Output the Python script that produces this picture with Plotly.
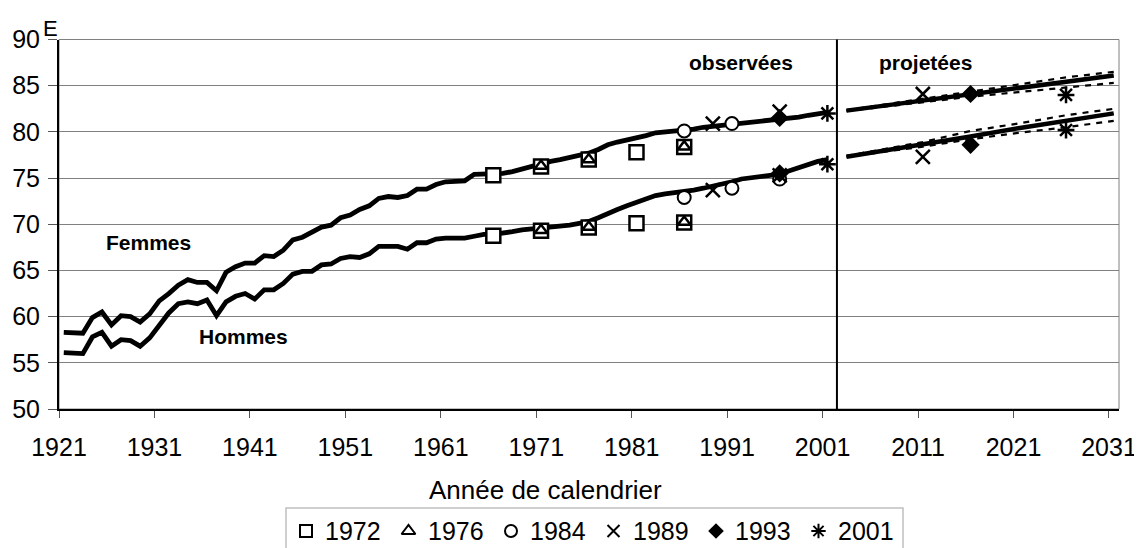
import plotly.graph_objects as go

# ==========================================================
# DATA
# ==========================================================

OBS_YEARS = list(range(1921, 2002))

FEMMES_OBS = [
    58.3, 58.3, 58.2, 59.9, 60.5, 59.1, 60.1, 60.0, 59.4, 60.3,
    61.7, 62.5, 63.4, 64.0, 63.7, 63.7, 62.8, 64.8, 65.4, 65.8,
    65.8, 66.6, 66.5, 67.2, 68.3, 68.6, 69.1, 69.7, 69.9, 70.7,
    71.0, 71.6, 72.0, 72.8, 73.0, 72.9, 73.1, 73.8, 73.8, 74.3,
    74.6, 74.6, 74.7, 75.4, 75.4, 75.4, 75.5, 75.7, 76.0, 76.3,
    76.6, 76.8, 77.0, 77.2, 77.4, 77.7, 78.1, 78.6, 78.9, 79.1,
    79.3, 79.6, 79.9, 80.0, 80.1, 80.1, 80.3, 80.5, 80.6, 80.8,
    80.9, 81.0, 81.1, 81.1, 81.2, 81.3, 81.5, 81.6, 81.8, 81.95,
    82.1,
]

HOMMES_OBS = [
    56.1, 56.0, 56.0, 57.8, 58.3, 56.8, 57.5, 57.4, 56.8, 57.7,
    59.1, 60.4, 61.4, 61.6, 61.4, 61.8, 60.1, 61.6, 62.2, 62.5,
    61.9, 62.9, 62.9, 63.6, 64.6, 64.9, 64.9, 65.6, 65.7, 66.3,
    66.5, 66.4, 66.8, 67.6, 67.6, 67.6, 67.3, 68.0, 68.0, 68.4,
    68.5, 68.5, 68.5, 68.7, 68.9, 68.9, 69.0, 69.2, 69.4, 69.5,
    69.6, 69.6, 69.8, 69.9, 70.1, 70.3, 70.7, 71.2, 71.6, 72.0,
    72.4, 72.8, 73.1, 73.3, 73.4, 73.55, 73.7, 73.9, 74.1, 74.4,
    74.6, 74.9, 75.0, 75.1, 75.3, 75.45, 75.8, 76.1, 76.4, 76.8,
    77.0,
]

PROJ_YEARS = [2003, 2011, 2016, 2021, 2026, 2031]
FEMMES_PROJ = [82.3, 83.4, 84.1, 84.8, 85.5, 86.1]
FEMMES_HAUT = [82.35, 83.6, 84.4, 85.2, 85.9, 86.5]
FEMMES_BAS = [82.25, 83.2, 83.8, 84.3, 84.8, 85.3]
HOMMES_PROJ = [77.3, 78.6, 79.5, 80.4, 81.2, 82.0]
HOMMES_HAUT = [77.4, 78.9, 80.1, 80.9, 81.8, 82.5]
HOMMES_BAS = [77.3, 78.4, 79.2, 79.9, 80.5, 81.2]

# earlier projections (femmes / hommes) by year of projection
M1972_YEARS = [1966, 1971, 1976, 1981, 1986]
M1972_F = [75.3, 76.25, 77.0, 77.8, 78.35]
M1972_H = [68.75, 69.3, 69.65, 70.1, 70.2]

M1976_YEARS = [1971, 1976, 1986]
M1976_F = [76.3, 77.0, 78.4]
M1976_H = [69.35, 69.7, 70.25]

M1984_YEARS = [1986, 1991, 1996]
M1984_F = [80.1, 80.9, None]
M1984_H = [72.9, 73.9, 74.9]

M1989_YEARS = [1989, 1996, 2011]
M1989_F = [80.9, 82.2, 84.1]
M1989_H = [73.7, 75.3, 77.3]

M1993_YEARS = [1996, 2016]
M1993_F = [81.5, 84.1]
M1993_H = [75.5, 78.6]

M2001_YEARS = [2001, 2026]
M2001_F = [82.0, 84.0]
M2001_H = [76.5, 80.2]

TICK_YEARS = list(range(1921, 2032, 10))
LAST_OBS_LIMIT = 2002

# ==========================================================
# STYLE / LAYOUT (pixels of the 1142 x 548 page)
# ==========================================================

PAGE_W, PAGE_H = 1142, 548
PAD = 8  # default body margin of the html page
W, H = PAGE_W - PAD, PAGE_H - PAD
PLOT_LEFT, PLOT_RIGHT, PLOT_TOP, PLOT_BOTTOM = 59, 1119, 39.5, 409

FONT = "Liberation Sans, Arial, sans-serif"
GRID = "#808080"
BLACK = "black"

# legend (drawn by hand so it can run off the bottom of the page)
LEG_FIRST_SYMBOL = 306
LEG_STEP = 102.5
LEG_TEXT_GAP = 17
LEG_Y = 531
LEG_BOX = (286, 508, 903, 570)

fig = go.Figure()

# observed
for serie in (FEMMES_OBS, HOMMES_OBS):
    fig.add_trace(go.Scatter(
        x=OBS_YEARS, y=serie, mode="lines",
        line=dict(color=BLACK, width=4.8),
        showlegend=False, hoverinfo="skip"
    ))

# projected (central)
for serie in (FEMMES_PROJ, HOMMES_PROJ):
    fig.add_trace(go.Scatter(
        x=PROJ_YEARS, y=serie, mode="lines",
        line=dict(color=BLACK, width=4.5),
        showlegend=False, hoverinfo="skip"
    ))

# projected (bounds)
for serie in (FEMMES_HAUT, FEMMES_BAS, HOMMES_HAUT, HOMMES_BAS):
    fig.add_trace(go.Scatter(
        x=PROJ_YEARS, y=serie, mode="lines",
        line=dict(color=BLACK, width=2.2, dash="6px,6px"),
        showlegend=False, hoverinfo="skip"
    ))

# markers
vintages = [
    ("1972", M1972_YEARS, M1972_F, M1972_H,
     dict(symbol="square", size=14, color="white", line=dict(color=BLACK, width=2.5))),
    ("1976", M1976_YEARS, M1976_F, M1976_H,
     dict(symbol="triangle-up", size=11, color="white", line=dict(color=BLACK, width=2.5))),
    ("1984", M1984_YEARS, M1984_F, M1984_H,
     dict(symbol="circle", size=13, color="white", line=dict(color=BLACK, width=2))),
    ("1989", M1989_YEARS, M1989_F, M1989_H,
     dict(symbol="x-thin", size=14, color=BLACK, line=dict(color=BLACK, width=2.5))),
    ("1993", M1993_YEARS, M1993_F, M1993_H,
     dict(symbol="diamond", size=14, color=BLACK, line=dict(color=BLACK, width=0))),
    ("2001", M2001_YEARS, M2001_F, M2001_H,
     dict(symbol="asterisk", size=14, color=BLACK, line=dict(color=BLACK, width=2.5))),
]

for name, years, f_vals, h_vals, marker in vintages:
    fig.add_trace(go.Scatter(
        x=years + years, y=f_vals + h_vals, mode="markers",
        marker=marker, name=name, showlegend=False, hoverinfo="skip"
    ))

# legend symbols on a page-sized overlay axis
leg_x = [LEG_FIRST_SYMBOL + i * LEG_STEP for i in range(len(vintages))]

for (name, _, _, _, marker), x in zip(vintages, leg_x):
    small = dict(marker)
    small["size"] = 12
    small["line"] = dict(marker["line"])
    if marker["line"]["width"]:
        small["line"]["width"] = 2
    fig.add_trace(go.Scatter(
        x=[x], y=[LEG_Y], mode="markers", marker=small,
        xaxis="x2", yaxis="y2", showlegend=False, hoverinfo="skip"
    ))
    fig.add_annotation(
        xref="x2", yref="y2", x=x + LEG_TEXT_GAP, y=LEG_Y,
        xanchor="left", yanchor="middle", text=name, showarrow=False,
        font=dict(family=FONT, size=25, color=BLACK)
    )

fig.add_shape(
    type="rect", xref="x2", yref="y2",
    x0=LEG_BOX[0], y0=LEG_BOX[1], x1=LEG_BOX[2], y1=LEG_BOX[3],
    line=dict(color="#c0c0c0", width=1.5)
)

# separation observed / projected
fig.add_shape(
    type="line", xref="x", yref="y domain",
    x0=LAST_OBS_LIMIT, x1=LAST_OBS_LIMIT, y0=0, y1=1,
    line=dict(color=BLACK, width=2)
)

# plot area frame
fig.add_shape(
    type="rect", xref="x domain", yref="y domain",
    x0=0, x1=1, y0=0, y1=1,
    line=dict(color=GRID, width=1), layer="below"
)

bold = dict(family=FONT, size=21, color=BLACK)

for text, x, y in (
    ("<b>Femmes</b>", 1929.9, 68.0),
    ("<b>Hommes</b>", 1939.8, 57.8),
    ("<b>observées</b>", 1992.0, 87.5),
    ("<b>projetées</b>", 2011.3, 87.5),
):
    fig.add_annotation(x=x, y=y, text=text, showarrow=False, font=bold)

fig.add_annotation(
    xref="x2", yref="y2", x=50.5, y=28,
    text="E", showarrow=False,
    font=dict(family=FONT, size=22, color=BLACK)
)

fig.add_annotation(
    xref="x2", yref="y2", x=545, y=490,
    text="Année de calendrier", showarrow=False,
    font=dict(family=FONT, size=26, color=BLACK)
)

fig.update_layout(
    width=W, height=H,
    margin=dict(l=0, r=0, t=0, b=0, autoexpand=False),
    paper_bgcolor="white", plot_bgcolor="rgba(0,0,0,0)",
    font=dict(family=FONT, size=25, color=BLACK),
    showlegend=False,
    xaxis=dict(
        domain=[(PLOT_LEFT - PAD) / W, (PLOT_RIGHT - PAD) / W],
        range=[1920.5, 2031.55],
        tickvals=[y - 0.5 for y in TICK_YEARS],
        ticktext=[str(y) for y in TICK_YEARS],
        showgrid=False, zeroline=False, automargin=False,
        showline=True, linecolor=BLACK, linewidth=2,
        ticks="outside", ticklen=7, tickcolor="#555555", tickwidth=1,
        ticklabelstandoff=8
    ),
    yaxis=dict(
        domain=[1 - (PLOT_BOTTOM - PAD) / H, 1 - (PLOT_TOP - PAD) / H],
        range=[50, 90], dtick=5,
        showgrid=True, gridcolor=GRID, gridwidth=1, zeroline=False,
        automargin=False,
        showline=True, linecolor=BLACK, linewidth=2,
        ticks="outside", ticklen=9, tickcolor="#555555", tickwidth=1,
        ticklabelstandoff=3
    ),
    # overlay axes in page pixels, used for the legend and free texts
    xaxis2=dict(domain=[0, 1], range=[PAD, PAGE_W], visible=False,
                anchor="y2", automargin=False),
    yaxis2=dict(domain=[0, 1], range=[PAGE_H, PAD], visible=False,
                anchor="x2", automargin=False),
)

fig.write_html("out.html")
